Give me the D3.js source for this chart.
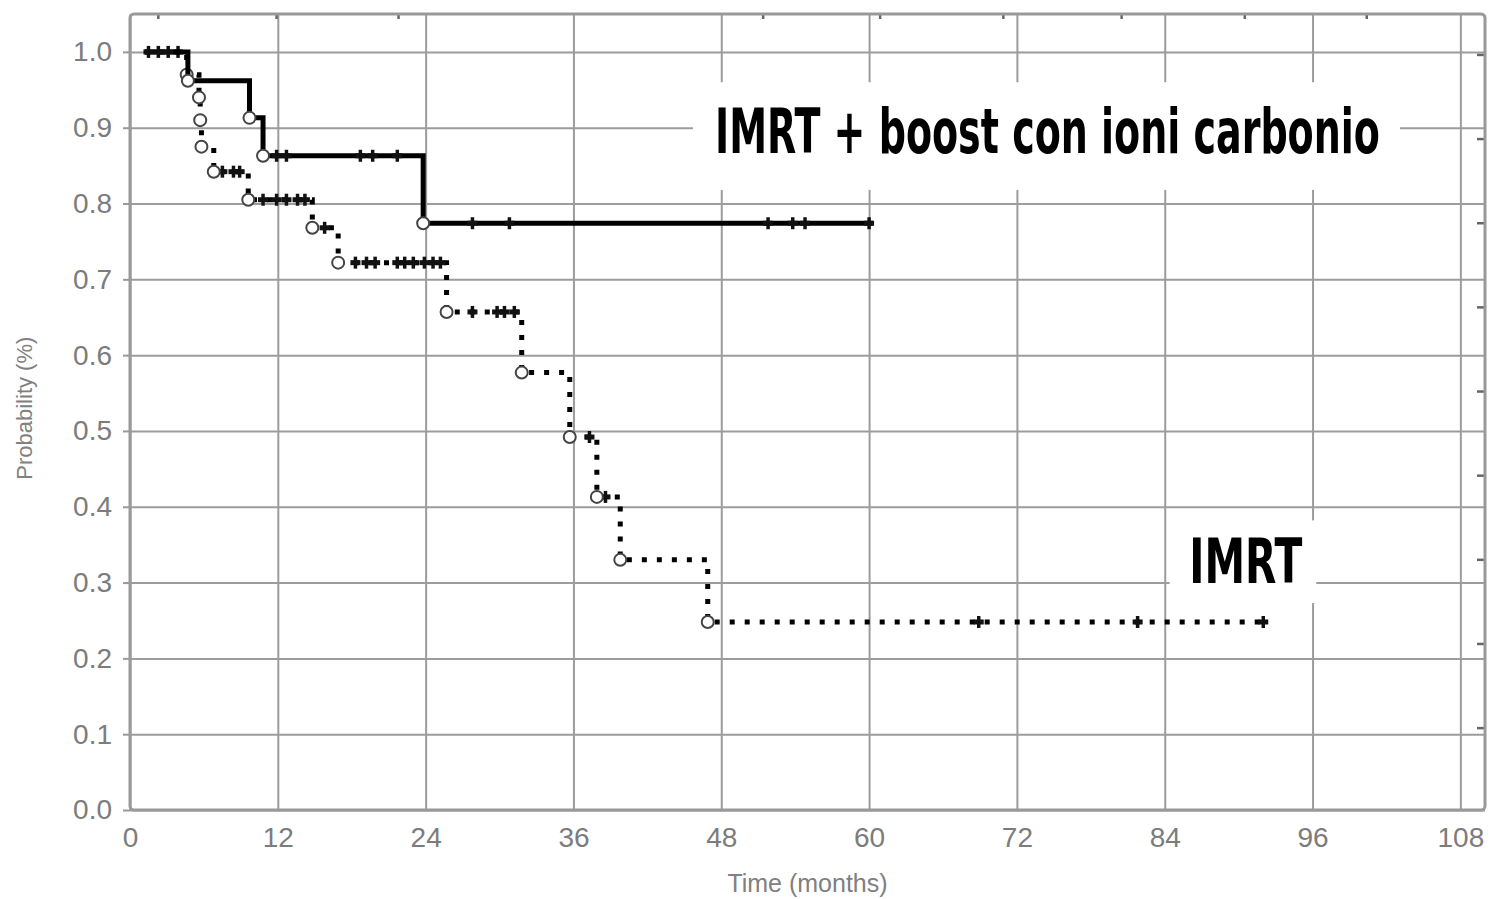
<!DOCTYPE html>
<html>
<head>
<meta charset="utf-8">
<script src="https://cdn.jsdelivr.net/npm/d3@7"></script>
<style>
  body { margin: 0; background: #fff; }
  .tick text { font-family: "Liberation Sans", Arial, sans-serif; fill: #7c7c7c; }
</style>
</head>
<body>
<div class="graph"></div>
<script>

// tick values of the two axes
var xTicks = [0, 12, 24, 36, 48, 60, 72, 84, 96, 108];
var yTicks = [0.0, 0.1, 0.2, 0.3, 0.4, 0.5, 0.6, 0.7, 0.8, 0.9, 1.0];

// little marks on top and right border (they do not follow the grid)
var topMarks = [2.3, 11.9, 21.8, 51.4, 60.9, 70.9, 80.5, 90.5, 100.4];
var rightMarks = [0.996, 0.885, 0.774, 0.663, 0.552, 0.441, 0.33, 0.219, 0.108];

// IMRT + boost con ioni carbonio (solid line): time of each step and probability after it
var boostTimes = [1.2, 4.7, 9.7, 10.8, 23.8, 60.3];
var boostProb  = [1.0, 0.962, 0.913, 0.863, 0.774, 0.774];
var boostCensored = [1.5, 2.3, 3.1, 11.9, 12.7, 18.7, 19.7, 21.7, 27.8, 30.8, 51.8, 53.8, 54.8, 60.0];

// IMRT (dotted line)
var imrtTimes = [1.2, 4.6, 5.6, 5.7, 5.8, 6.8, 9.6, 14.8, 16.9, 25.7, 31.8, 35.7, 37.9, 39.8, 46.9, 92.3];
var imrtProb  = [1.0, 0.97, 0.94, 0.91, 0.875, 0.842, 0.805, 0.768, 0.722, 0.657, 0.577, 0.492, 0.413, 0.330, 0.248, 0.248];
var imrtCensored = [3.9, 7.5, 8.4, 8.9, 10.8, 11.9, 12.7, 13.6, 14.2, 15.8, 18.3, 19.2, 19.9, 21.7, 22.3,
                    23.0, 23.9, 24.6, 25.2, 27.8, 29.8, 30.4, 31.2, 37.3, 38.6, 68.9, 81.8, 92.0];

var margin = {top: 14, right: 7, bottom: 89, left: 130};

// screen is 1492 x 899
var width = 1492 - margin.left - margin.right;
var height = 899 - margin.top - margin.bottom;

var x = d3.scaleLinear().domain([0, 110]).range([0, width]);
var y = d3.scaleLinear().domain([0, 1.05]).range([height, 0]);

var svg = d3.select(".graph").append("svg")
    .attr("width", width + margin.left + margin.right)
    .attr("height", height + margin.top + margin.bottom)
    .append("g")
    .attr("transform", "translate(" + margin.left + "," + margin.top + ")");

// builds [{t, p}] from the two arrays of a curve
function steps(times, probs) {
    return times.map(function(t, i) { return {t: t, p: probs[i]}; });
}

// probability of a curve at time t (for the censored marks)
function probAt(times, probs, t) {
    var i = d3.bisectRight(times, t) - 1;
    return probs[Math.max(i, 0)];
}

function drawGrid() {
    svg.append("g")
        .attr("class", "grid")
        .attr("transform", "translate(0," + height + ")")
        .call(d3.axisBottom(x).tickValues(xTicks).tickSize(-height).tickFormat(""))
        .call(function(g) { g.select(".domain").remove(); });

    svg.append("g")
        .attr("class", "grid")
        .call(d3.axisLeft(y).tickValues(yTicks).tickSize(-width).tickFormat(""))
        .call(function(g) { g.select(".domain").remove(); });

    svg.selectAll(".grid line")
        .attr("stroke", "#9c9c9c")
        .attr("stroke-width", 2);
}

function drawAxes() {
    // x labels
    svg.append("g")
        .attr("class", "x axis")
        .attr("transform", "translate(0," + height + ")")
        .call(d3.axisBottom(x).tickValues(xTicks).tickSize(0).tickPadding(17))
        .call(function(g) { g.select(".domain").remove(); })
        .selectAll("text").style("font-size", "28px");

    // y labels, with the small outside ticks
    svg.append("g")
        .attr("class", "y axis")
        .call(d3.axisLeft(y).tickValues(yTicks).tickSize(7).tickPadding(11)
            .tickFormat(d3.format(".1f")))
        .call(function(g) { g.select(".domain").remove(); })
        .call(function(g) { g.selectAll("line").attr("stroke", "#999").attr("stroke-width", 2); })
        .selectAll("text").style("font-size", "28px");

    // marks along the top and right border
    svg.append("g").selectAll("line").data(topMarks).enter().append("line")
        .attr("x1", function(d) { return x(d); }).attr("x2", function(d) { return x(d); })
        .attr("y1", 0).attr("y2", 5)
        .attr("stroke", "#666").attr("stroke-width", 2.5);

    svg.append("g").selectAll("line").data(rightMarks).enter().append("line")
        .attr("x1", width - 8).attr("x2", width)
        .attr("y1", function(d) { return y(d); }).attr("y2", function(d) { return y(d); })
        .attr("stroke", "#666").attr("stroke-width", 2.5);

    // frame
    svg.append("rect")
        .attr("x", 0).attr("y", 0)
        .attr("width", width).attr("height", height)
        .attr("rx", 4)
        .attr("fill", "none")
        .attr("stroke", "#999")
        .attr("stroke-width", 3);

    // axis titles
    svg.append("text")
        .attr("x", x(55)).attr("y", height + 82)
        .attr("text-anchor", "middle")
        .style("font-family", "Liberation Sans, Arial, sans-serif")
        .style("font-size", "25px")
        .attr("fill", "#808080")
        .text("Time (months)");

    svg.append("text")
        .attr("transform", "translate(" + (-98) + "," + y(0.53) + ") rotate(-90)")
        .attr("text-anchor", "middle")
        .style("font-family", "Liberation Sans, Arial, sans-serif")
        .style("font-size", "22px")
        .attr("fill", "#808080")
        .text("Probability (%)");
}

// condensed bold label: squeezed horizontally to the wanted width
function condensedLabel(txt, tx, ty, size, wantedWidth) {
    var t = svg.append("text")
        .style("font-family", "DejaVu Sans Condensed, DejaVu Sans, sans-serif")
        .style("font-weight", "bold")
        .style("font-size", size + "px")
        .attr("fill", "#000")
        .text(txt);
    var sx = wantedWidth / t.node().getComputedTextLength();
    t.attr("transform", "translate(" + tx + "," + ty + ") scale(" + sx + ",1)");
}

function drawLabels() {
    // white boxes that hide the grid behind the labels
    svg.append("rect")
        .attr("x", x(45.7)).attr("y", y(0.96))
        .attr("width", x(103.1) - x(45.7)).attr("height", y(0.818) - y(0.96))
        .attr("fill", "#fff");
    svg.append("rect")
        .attr("x", x(84.4)).attr("y", y(0.382))
        .attr("width", x(96.3) - x(84.4)).attr("height", y(0.273) - y(0.382))
        .attr("fill", "#fff");

    condensedLabel("IMRT + boost con ioni carbonio", x(47.5), y(0.866), 63, 665);
    condensedLabel("IMRT", x(86.0), y(0.299), 62, 113);
}

function drawCurve(times, probs, censored, dashed) {
    var data = steps(times, probs);

    var line = d3.line()
        .x(function(d) { return x(d.t); })
        .y(function(d) { return y(d.p); })
        .curve(d3.curveStepAfter);

    svg.append("path")
        .datum(data)
        .attr("fill", "none")
        .attr("stroke", "#000")
        .attr("stroke-width", 5)
        .attr("stroke-dasharray", dashed ? "5,10" : null)
        .attr("d", line);

    // censored cases: small plus marks on the curve
    var marks = svg.append("g").selectAll("g")
        .data(censored)
        .enter().append("g")
        .attr("transform", function(d) {
            return "translate(" + x(d) + "," + y(probAt(times, probs, d)) + ")";
        });
    marks.append("line")
        .attr("x1", 0).attr("x2", 0).attr("y1", -6).attr("y2", 6)
        .attr("stroke", "#111").attr("stroke-width", 3.5);
    marks.append("line")
        .attr("x1", -5).attr("x2", 5).attr("y1", 0).attr("y2", 0)
        .attr("stroke", "#111").attr("stroke-width", 5);

    // complete cases: open circles after each step
    svg.append("g").selectAll("circle")
        .data(data.slice(1, -1))
        .enter().append("circle")
        .attr("cx", function(d) { return x(d.t); })
        .attr("cy", function(d) { return y(d.p); })
        .attr("r", 6)
        .attr("fill", "#fff")
        .attr("stroke", "#444")
        .attr("stroke-width", 2);
}

drawGrid();
drawLabels();
drawAxes();
drawCurve(imrtTimes, imrtProb, imrtCensored, true);
drawCurve(boostTimes, boostProb, boostCensored, false);

</script>
</body>
</html>
